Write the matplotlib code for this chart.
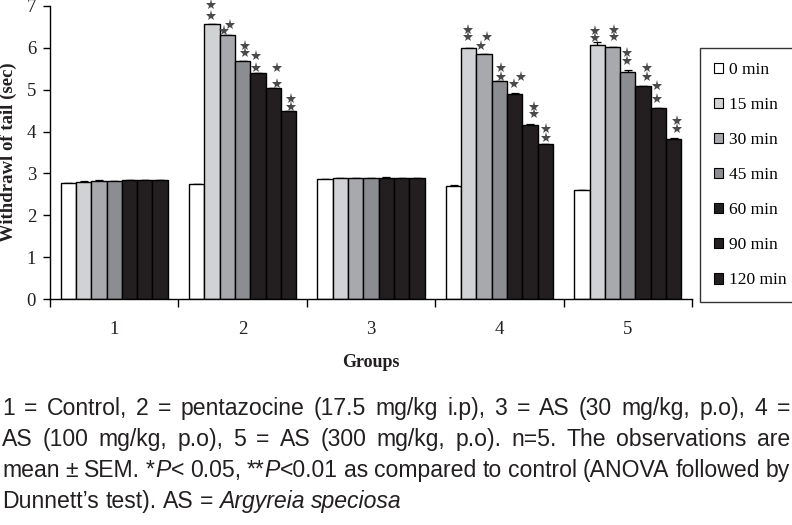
import matplotlib
matplotlib.use("Agg")
import matplotlib.pyplot as plt
from matplotlib.patches import Patch
from matplotlib.transforms import offset_copy
import numpy as np

# ---------------- data ----------------
groups = ["1", "2", "3", "4", "5"]
times = ["0 min", "15 min", "30 min", "45 min", "60 min", "90 min", "120 min"]
y_ticks = [0, 1, 2, 3, 4, 5, 6, 7]

t0   = [2.77, 2.74, 2.86, 2.70, 2.60]
t15  = [2.80, 6.56, 2.88, 5.99, 6.08]
t30  = [2.82, 6.30, 2.88, 5.85, 6.01]
t45  = [2.81, 5.68, 2.88, 5.21, 5.42]
t60  = [2.84, 5.39, 2.90, 4.90, 5.09]
t90  = [2.84, 5.03, 2.88, 4.16, 4.56]
t120 = [2.84, 4.49, 2.88, 3.70, 3.83]

sem0   = [0.01, 0.01, 0.01, 0.02, 0.01]
sem15  = [0.01, 0.01, 0.01, 0.01, 0.05]
sem30  = [0.02, 0.01, 0.01, 0.01, 0.01]
sem45  = [0.01, 0.01, 0.01, 0.01, 0.05]
sem60  = [0.01, 0.01, 0.02, 0.01, 0.01]
sem90  = [0.01, 0.01, 0.01, 0.01, 0.01]
sem120 = [0.01, 0.01, 0.01, 0.01, 0.01]

# significance (** = P<0.01) : group index -> bars (time index) marked
sig_groups = [1, 3, 4]
sig_bars = [1, 2, 3, 4, 5, 6]

caption_lines = [
    "1 = Control, 2 = pentazocine (17.5 mg/kg i.p), 3 = AS (30 mg/kg, p.o), 4 =",
    "AS (100 mg/kg, p.o), 5 = AS (300 mg/kg, p.o). n=5. The observations are",
    "mean ± SEM. *_P_< 0.05, **_P_<0.01 as compared to control (ANOVA followed by",
    "Dunnett\u2019s test). AS = _Argyreia_ _speciosa_",
]

# ---------------- style ----------------
colors = ["#ffffff", "#d1d2d4", "#a8a9ad", "#8c8d91", "#231f20", "#231f20", "#231f20"]
serif = ["Liberation Serif", "DejaVu Serif"]
sans = ["Liberation Sans", "DejaVu Sans"]

# star offsets in pixels (dx, dy above bar top) for each marked bar, two stars per bar
star_offsets = {
    1: [[(-1, 19), (-1, 8)], [(-3, 4), (3, 10)], [(2, 15), (2, 8)],
        [(-1.5, 17), (-1.5, 5)], [(3.5, 20), (3.5, 4)], [(2, 12), (2, 4)]],
    3: [[(-1, 18), (-1, 11)], [(-3.5, 8), (3, 17)], [(1.5, 13), (1.5, 4)],
        [(-0.5, 10), (6, 17)], [(4, 18), (4, 11)], [(0.5, 15), (0.5, 6)]],
    4: [[(-2, 14), (-2, 7)], [(1.5, 17), (1.5, 10)], [(-0.5, 19), (-0.5, 11)],
        [(4, 18), (4, 9)], [(-1, 22), (-1, 9)], [(3, 18), (3, 10)]],
}

W, H = 792, 525
fig = plt.figure(figsize=(W / 100, H / 100), dpi=100)
ax = fig.add_axes([50 / W, (H - 299) / H, 642 / W, 293 / H])

series = [t0, t15, t30, t45, t60, t90, t120]
sems = [sem0, sem15, sem30, sem45, sem60, sem90, sem120]
x = np.arange(1, len(groups) + 1)
bw = 15.3 / 128.4

for i, (vals, err, c, lab) in enumerate(zip(series, sems, colors, times)):
    pos = x + (i - 3) * bw
    ax.bar(pos, vals, width=bw, color=c, edgecolor="black", linewidth=1.0,
           label=lab, zorder=2,
           yerr=[np.zeros(len(err)), err],
           error_kw=dict(ecolor="black", elinewidth=0.9, capsize=3, capthick=0.9, zorder=1))

# significance stars
for g in sig_groups:
    for k, i in enumerate(sig_bars):
        xb = x[g] + (i - 3) * bw
        yb = series[i][g]
        for dx, dy in star_offsets[g][k]:
            tr = offset_copy(ax.transData, fig=fig, x=dx, y=dy, units="dots")
            ax.plot([xb], [yb], marker="*", markersize=8, color="#4a4a4a",
                    markeredgewidth=0, transform=tr, zorder=3, clip_on=False)

ax.set_xlim(0.5, len(groups) + 0.5)
ax.set_ylim(0, 7)
ax.set_yticks(y_ticks)
ax.set_yticklabels([str(v) for v in y_ticks], fontfamily=serif, fontsize=13.5, color="#231f20")
ax.set_xticks(x)
ax.set_xticklabels(groups, fontfamily=serif, fontsize=13.5, color="#231f20")
ax.set_xticks(np.arange(0.5, len(groups) + 1), minor=True)
ax.tick_params(axis="x", which="major", length=0, pad=16)
ax.tick_params(axis="x", which="minor", length=6, width=1, direction="out")
ax.tick_params(axis="y", length=5, width=1, direction="out", pad=5)
for s in ["top", "right"]:
    ax.spines[s].set_visible(False)
for s in ["left", "bottom"]:
    ax.spines[s].set_linewidth(1)

ax.set_ylabel("Withdrawl of tail (sec)", fontfamily=serif, fontsize=13.5,
              fontweight="bold", color="#231f20")
ax.yaxis.set_label_coords(-33 / 642, 0.5)
ax.set_xlabel("Groups", fontfamily=serif, fontsize=13, fontweight="bold", color="#231f20")
ax.xaxis.set_label_coords(0.5, -(354 - 299) / 293)

handles = [Patch(facecolor=c, edgecolor="black", linewidth=0.8) for c in colors]
leg = fig.legend(handles, times, loc="upper left",
                 bbox_to_anchor=(700 / W, 1 - 48 / H),
                 prop=dict(family=serif, size=12.5),
                 frameon=True, fancybox=False, edgecolor="black",
                 handlelength=0.55, handleheight=0.55, handletextpad=0.3,
                 labelspacing=1.1, borderpad=0.8, borderaxespad=0)
leg.get_frame().set_linewidth(1.0)

# ---------------- caption (justified) ----------------
fig.canvas.draw()
renderer = fig.canvas.get_renderer()


def parse(line):
    words = []
    for w in line.split(" "):
        parts = w.split("_")
        segs = [(p, "italic" if j % 2 == 1 else "normal") for j, p in enumerate(parts) if p]
        words.append(segs)
    return words


def seg_width(text, style, size):
    t = fig.text(0, 0, text, fontfamily=sans, fontsize=size, style=style)
    w = t.get_window_extent(renderer).width
    t.remove()
    return w


def word_width(segs, size):
    return sum(seg_width(t, s, size) for t, s in segs)


def natural(size):
    sp = seg_width("a a", "normal", size) - seg_width("aa", "normal", size)
    return max(sum(word_width(ws, size) for ws in parse(l)) + 0.7 * sp * (len(parse(l)) - 1)
               for l in caption_lines[:3])


x_left, x_right = 2, 790
base = 12.0
fit = base * (x_right - x_left) / natural(base)
size = min(fit, 16.6)
space = seg_width("a a", "normal", size) - seg_width("aa", "normal", size)

baselines = [415, 446, 477, 508]
for li, (line, yb) in enumerate(zip(caption_lines, baselines)):
    words = parse(line)
    widths = [word_width(ws, size) for ws in words]
    if li < len(caption_lines) - 1:
        gap = (x_right - x_left - sum(widths)) / (len(words) - 1)
    else:
        gap = space
    cx = x_left
    for ws, ww in zip(words, widths):
        sx = cx
        for t, st in ws:
            fig.text(sx / W, 1 - yb / H, t, fontfamily=sans, fontsize=size, style=st,
                     color="#231f20", ha="left", va="baseline")
            sx += seg_width(t, st, size)
        cx += ww + gap

fig.savefig("out.png", dpi=100, facecolor="white")
